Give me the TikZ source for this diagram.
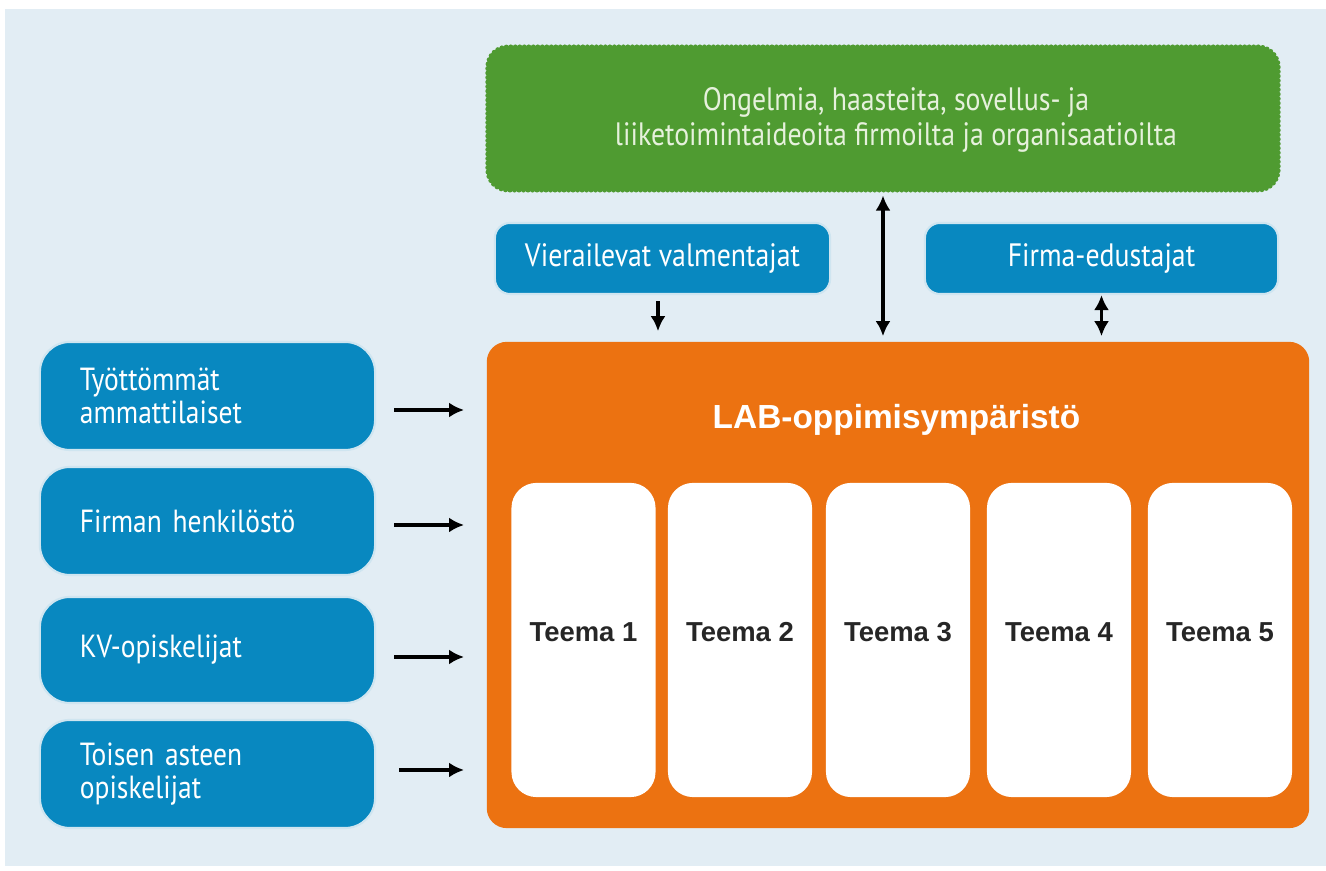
\documentclass[tikz,border=0pt]{standalone}
\usepackage{fontspec}
\setmainfont{PT Sans}[FakeStretch=0.86]
\newfontfamily\boldfont{Liberation Sans}
\usetikzlibrary{arrows.meta}
\definecolor{bg}{HTML}{E2EDF4}
\definecolor{bluebox}{HTML}{0888C0}
\definecolor{blueedge}{HTML}{CFE5F0}
\definecolor{orangebox}{HTML}{EC7211}
\definecolor{greenbox}{HTML}{4F9B31}
\definecolor{greentext}{HTML}{E6F1DC}
\tikzset{
  topbox/.style={fill=bluebox, draw=blueedge, line width=0.6pt, rounded corners=0.15cm,
    text=white, font=\fontsize{9.2}{10}\selectfont, inner sep=0pt},
  sidebox/.style={fill=bluebox, draw=blueedge, line width=0.6pt, rounded corners=0.3cm,
    text=white, font=\fontsize{9.1}{9.6}\selectfont, inner xsep=0.4cm, inner ysep=0pt,
    text width=2.55cm, align=left, minimum width=3.35cm, minimum height=1.07cm},
  greenboxstyle/.style={fill=greenbox, draw=greenbox, line width=0.05cm,
    dash pattern=on 0pt off 0.045cm, line cap=round, rounded corners=0.2cm, inner sep=0pt},
  labbox/.style={fill=orangebox, rounded corners=0.2cm, inner sep=0pt},
  themebox/.style={fill=white, rounded corners=0.25cm, inner sep=0pt,
    minimum width=1.44cm, minimum height=3.14cm,
    label={[font=\boldfont\bfseries\fontsize{7.8}{9}\selectfont, text=black!85, yshift=0.08cm]center:#1}},
  arr/.style={-{Latex[length=0.15cm,width=0.15cm]}, line width=0.035cm, black},
  darr/.style={{Latex[length=0.15cm,width=0.15cm]}-{Latex[length=0.15cm,width=0.15cm]}, line width=0.035cm, black}
}
\begin{document}
\begin{tikzpicture}[x=0.01cm,y=-0.01cm]
\useasboundingbox (0,0) rectangle (1326,871);
\fill[white] (0,0) rectangle (1326,871);
\fill[bg] (5,9) rectangle (1326,866);

% green box
\node[greenboxstyle, minimum width=7.9cm, minimum height=1.43cm,
  label={[text=greentext, font=\fontsize{9.2}{10.1}\selectfont, align=center, xshift=0.13cm, yshift=-0.015cm]center:Ongelmia, haasteita, sovellus- ja\\liiketoimintaideoita firmoilta ja organisaatioilta}]
  (green) at (883,118.5) {};

% top blue boxes
\node[topbox, minimum width=3.35cm, minimum height=0.71cm] (vier) at (662.5,258.5) {Vierailevat valmentajat};
\node[topbox, minimum width=3.53cm, minimum height=0.71cm] (firma) at (1101.5,258.5) {Firma-edustajat};

% orange LAB box
\node[labbox, minimum width=8.22cm, minimum height=4.86cm] (lab) at (898,585) {};
\node[text=white, font=\boldfont\bfseries\fontsize{9.5}{11}\selectfont] (labtitle) at (896.5,420) {LAB-oppimisympäristö};

% theme boxes
\node[themebox={Teema 1}] (t1) at (583.5,640) {};
\node[themebox={Teema 2}] (t2) at (740,640) {};
\node[themebox={Teema 3}] (t3) at (898,640) {};
\node[themebox={Teema 4}] (t4) at (1059,640) {};
\node[themebox={Teema 5}] (t5) at (1220,640) {};

% left boxes
\node[sidebox, minimum height=1.08cm] (s1) at (207.5,396) {Työttömmät\\ammattilaiset};
\node[sidebox, minimum height=1.08cm] (s2) at (207.5,521) {Firman henkilöstö};
\node[sidebox, minimum height=1.06cm] (s3) at (207.5,650) {KV-opiskelijat};
\node[sidebox, minimum height=1.08cm] (s4) at (207.5,774) {Toisen asteen\\opiskelijat};

% arrows
\draw[arr, shorten <=0.06cm, shorten >=0.1cm] ([xshift=-0.045cm]vier.south) -- ([xshift=-0.045cm]vier.south |- lab.north);
\draw[darr, shorten <=0.03cm, shorten >=0.05cm] (green.south) -- (green.south |- lab.north);
\draw[darr, shorten <=0.0cm, shorten >=0.05cm] (firma.south) -- (firma.south |- lab.north);

\draw[arr, shorten <=0.18cm, shorten >=0.22cm] ([yshift=-0.14cm]s1.east) -- ([yshift=-0.14cm]s1.east -| lab.west);
\draw[arr, shorten <=0.18cm, shorten >=0.22cm] ([yshift=-0.04cm]s2.east) -- ([yshift=-0.04cm]s2.east -| lab.west);
\draw[arr, shorten <=0.18cm, shorten >=0.22cm] ([yshift=-0.07cm]s3.east) -- ([yshift=-0.07cm]s3.east -| lab.west);
\draw[arr, shorten <=0.23cm, shorten >=0.22cm] ([yshift=0.04cm]s4.east) -- ([yshift=0.04cm]s4.east -| lab.west);
\end{tikzpicture}
\end{document}
